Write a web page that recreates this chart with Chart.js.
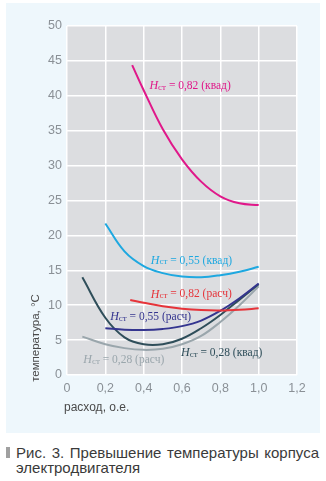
<!DOCTYPE html>
<html>
<head>
<meta charset="utf-8">
<script src="https://cdn.jsdelivr.net/npm/chart.js@4"></script>
<style>
  body { margin: 0; background: #fff; width: 326px; height: 481px; position: relative; overflow: hidden; }
  #panel { position: absolute; left: 6px; top: 3px; width: 314px; height: 430px; background: #eef7fc; }
  #caption { position: absolute; left: 16px; top: 445px; width: 303px; font: 15px "Liberation Sans", Arial, sans-serif; line-height: 15px; color: #3a3a3a; text-align: justify; }
  #mark { position: absolute; left: 6px; top: 447px; width: 4px; height: 11px; background: #a0a0a0; }
</style>
</head>
<body>
<div id="panel"><canvas id="chart" width="314" height="430"></canvas></div>
<div id="mark"></div>
<div id="caption">Рис. 3. Превышение температуры корпуса электродвигателя</div>
<script>
// расход, о.е. / температура, °C
const flow82kv = [0.34, 0.4, 0.5, 0.6, 0.7, 0.8, 0.9, 1.0];
const temp82kv = [44.4, 40.8, 35.2, 30.9, 27.7, 25.6, 24.6, 24.35];

const flow55kv = [0.2, 0.3, 0.4, 0.5, 0.6, 0.7, 0.8, 0.9, 1.0];
const temp55kv = [21.7, 17.7, 15.6, 14.6, 14.1, 14.0, 14.3, 14.8, 15.5];

const flow82r = [0.33, 0.4, 0.5, 0.6, 0.7, 0.8, 0.9, 1.0];
const temp82r = [10.75, 10.35, 9.85, 9.5, 9.3, 9.25, 9.35, 9.55];

const flow55r = [0.2, 0.3, 0.4, 0.5, 0.6, 0.7, 0.8, 0.9, 1.0];
const temp55r = [6.7, 6.5, 6.45, 6.6, 7.0, 7.8, 9.2, 11.0, 13.1];

const flow28kv = [0.08, 0.2, 0.3, 0.4, 0.5, 0.6, 0.7, 0.8, 0.9, 1.0];
const temp28kv = [14.0, 8.2, 5.4, 4.4, 4.4, 5.2, 6.7, 8.6, 10.8, 13.0];

const flow28r = [0.08, 0.2, 0.3, 0.4, 0.5, 0.6, 0.7, 0.8, 0.9, 1.0];
const temp28r = [5.5, 4.4, 3.85, 3.6, 3.75, 4.4, 5.6, 7.6, 10.0, 12.7];

const seriesValues = ['0,82 (квад)', '0,55 (квад)', '0,82 (расч)', '0,55 (расч)', '0,28 (квад)', '0,28 (расч)'];
const colors = ['#e0188a', '#1ea8e0', '#e6343a', '#34358f', '#2f4e5a', '#9aa6ac'];
// where each curve label sits (data coords, left edge / middle)
const labelAt = [[0.43, 41.4], [0.437, 16.4], [0.437, 11.55], [0.225, 8.27], [0.595, 3.15], [0.085, 2.15]];

const xTicks = [0, 0.2, 0.4, 0.6, 0.8, 1.0, 1.2];

function pts(xs, ys) {
    return xs.map((x, i) => ({ x: x, y: ys[i] }));
}

const curves = [
    pts(flow82kv, temp82kv), pts(flow55kv, temp55kv), pts(flow82r, temp82r),
    pts(flow55r, temp55r), pts(flow28kv, temp28kv), pts(flow28r, temp28r)
];

const plotBg = {
    id: 'plotBg',
    beforeDraw(chart) {
        const a = chart.chartArea;
        chart.ctx.save();
        chart.ctx.fillStyle = '#dcdde0';
        chart.ctx.fillRect(a.left, a.top, a.right - a.left, a.bottom - a.top);
        chart.ctx.restore();
    }
};

const labels = {
    id: 'labels',
    afterDatasetsDraw(chart) {
        const ctx = chart.ctx;
        const xs = chart.scales.x, ys = chart.scales.y;
        ctx.save();
        ctx.textBaseline = 'middle';
        seriesValues.forEach((txt, i) => {
            let px = xs.getPixelForValue(labelAt[i][0]);
            const py = ys.getPixelForValue(labelAt[i][1]);
            ctx.fillStyle = colors[i];
            ctx.font = 'italic 12px "Liberation Serif", serif';
            ctx.fillText('H', px, py);
            px += ctx.measureText('H').width;
            ctx.font = '9px "Liberation Serif", serif';
            ctx.fillText('ст', px, py + 1.5);
            px += ctx.measureText('ст').width;
            ctx.font = '11.5px "Liberation Serif", serif';
            ctx.fillText(' = ' + txt, px, py);
        });

        // axis titles
        ctx.fillStyle = '#4a4a4a';
        ctx.font = '12px "Liberation Sans", Arial, sans-serif';
        ctx.textAlign = 'left';
        ctx.fillText('расход, о.е.', 58, 405);
        ctx.translate(30, 335);
        ctx.rotate(-Math.PI / 2);
        ctx.textAlign = 'center';
        ctx.font = '11.5px "Liberation Sans", Arial, sans-serif';
        ctx.fillText('температура, °C', 0, 0);
        ctx.restore();
    }
};

new Chart(document.getElementById('chart'), {
    type: 'line',
    data: {
        datasets: curves.map((d, i) => ({
            label: seriesValues[i],
            data: d,
            borderColor: colors[i],
            borderWidth: 2,
            pointRadius: 0,
            fill: false,
            tension: 0.4
        }))
    },
    options: {
        responsive: false,
        animation: false,
        layout: { padding: { top: 23, right: 23, left: 0, bottom: 0 } },
        plugins: { legend: { display: false }, tooltip: { enabled: false } },
        scales: {
            x: {
                type: 'linear',
                min: 0, max: 1.2,
                afterBuildTicks(s) { s.ticks = xTicks.map(v => ({ value: v })); },
                afterFit(s) { s.height = 58; },
                grid: { color: '#ffffff', lineWidth: 1.5, drawTicks: false },
                border: { display: false },
                ticks: {
                    padding: 6,
                    color: '#8a9096',
                    font: { family: '"Liberation Sans", Arial, sans-serif', size: 12.5 },
                    callback: v => v === 0 ? '0' : v.toFixed(1).replace('.', ',')
                }
            },
            y: {
                min: 0, max: 50,
                afterFit(s) { s.width = 61; },
                grid: { color: '#ffffff', lineWidth: 1.5, drawTicks: false },
                border: { display: false },
                ticks: {
                    stepSize: 5,
                    padding: 5,
                    color: '#8a9096',
                    font: { family: '"Liberation Sans", Arial, sans-serif', size: 12.5 }
                }
            }
        }
    },
    plugins: [plotBg, labels]
});
</script>
</body>
</html>
